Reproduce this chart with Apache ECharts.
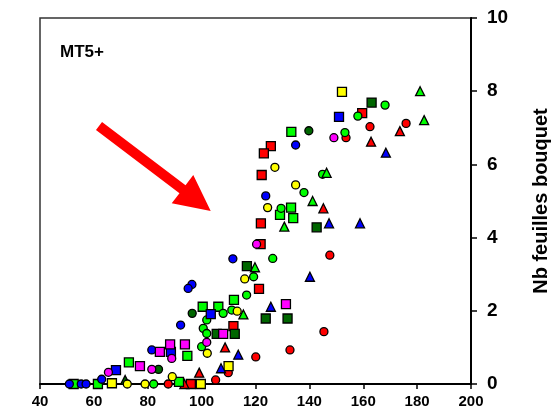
<!DOCTYPE html>
<html>
<head>
<meta charset="utf-8">
<script src="https://cdn.jsdelivr.net/npm/echarts@6/dist/echarts.min.js"></script>
<style>
  html, body { margin: 0; padding: 0; background: #ffffff; }
  #chart { width: 556px; height: 414px; }
</style>
</head>
<body>
<div id="chart"></div>
<script>
// Axis ranges
const xRange = { min: 40, max: 200, step: 20 };
const yRange = { min: 0, max: 10, step: 2 };
const panelTitle = 'MT5+';
const yAxisTitle = 'Nb feuilles bouquet';

// Observations [x, Nb feuilles bouquet], grouped by colour and marker
const redSquares = [[159.6,7.4],[125.7,6.5],[123.1,6.3],[122.3,5.71],[122.0,4.39],[121.9,3.82],[121.3,2.6],[111.8,1.58],[96.0,0]];
const redCircles = [[175.9,7.12],[162.5,7.03],[153.6,6.73],[147.6,3.52],[145.4,1.43],[132.8,0.93],[120.1,0.74],[109.9,0.31],[105.2,0.11],[87.6,0]];
const redTriangles = [[173.6,6.91],[162.9,6.62],[145.2,4.8],[108.7,1.0],[99.1,0.31],[93.6,0]];
const greenSquares = [[133.3,6.89],[133.2,4.82],[129.1,4.62],[134.0,4.53],[112.0,2.3],[100.4,2.11],[106.2,2.11],[94.7,0.77],[73.0,0.59],[91.6,0.06],[52.5,0],[61.5,0]];
const greenCircles = [[168.1,7.62],[158.0,7.32],[153.2,6.87],[144.9,5.73],[138.0,5.23],[129.5,4.8],[126.4,3.43],[119.3,2.93],[116.7,2.43],[111.2,2.02],[108.0,1.93],[101.9,1.75],[100.6,1.52],[101.9,1.38],[100.0,1.02],[82.2,0]];
const greenTriangles = [[181.1,8.0],[182.6,7.21],[146.4,5.77],[141.2,5.0],[130.7,4.3],[119.8,3.19],[115.5,1.9]];
const darkGreenSquares = [[163.1,7.69],[142.7,4.28],[116.8,3.22],[123.8,1.79],[131.9,1.79],[112.3,1.37],[105.6,1.37]];
const darkGreenCircles = [[139.8,6.92],[96.5,1.93],[84.0,0.4]];
const darkGreenTriangles = [[71.6,0.11]];
const yellowSquares = [[152.1,7.98],[110.0,0.49],[99.7,0],[66.7,0.02]];
const yellowCircles = [[127.2,5.92],[134.9,5.44],[124.5,4.82],[116.0,2.87],[113.2,1.99],[102.1,0.84],[89.1,0.2],[79.0,0],[72.4,0]];
const blueSquares = [[151.0,7.3],[103.4,1.91],[88.6,0.88],[68.2,0.38]];
const blueCircles = [[134.9,6.53],[123.8,5.14],[111.6,3.42],[96.4,2.72],[95.0,2.61],[92.2,1.61],[81.5,0.93],[62.9,0.13],[50.9,0],[55.3,0],[57.1,0]];
const blueTriangles = [[168.4,6.32],[147.3,4.39],[158.8,4.39],[140.2,2.93],[125.7,2.11],[113.6,0.8],[107.2,0.43]];
const magentaSquares = [[131.3,2.18],[108.0,1.37],[88.3,1.08],[93.8,1.08],[84.5,0.88],[77.1,0.49]];
const magentaCircles = [[149.1,6.73],[120.4,3.82],[101.9,1.14],[88.9,0.7],[81.5,0.4],[65.4,0.32]];

const palette = {
  red: '#ff0000', green: '#00ff00', darkGreen: '#006600',
  yellow: '#ffff00', blue: '#0000ff', magenta: '#ff00ff'
};
const markers = {
  square: { symbol: 'rect', size: 9 },
  circle: { symbol: 'circle', size: 8 },
  triangle: { symbol: 'triangle', size: 9 }
};

const groups = [
  ['red', 'square', redSquares], ['red', 'circle', redCircles], ['red', 'triangle', redTriangles],
  ['green', 'square', greenSquares], ['green', 'circle', greenCircles], ['green', 'triangle', greenTriangles],
  ['darkGreen', 'square', darkGreenSquares], ['darkGreen', 'circle', darkGreenCircles], ['darkGreen', 'triangle', darkGreenTriangles],
  ['yellow', 'square', yellowSquares], ['yellow', 'circle', yellowCircles],
  ['blue', 'square', blueSquares], ['blue', 'circle', blueCircles], ['blue', 'triangle', blueTriangles],
  ['magenta', 'square', magentaSquares], ['magenta', 'circle', magentaCircles]
];

const series = groups.map(([colour, shape, data]) => ({
  name: colour + '-' + shape,
  type: 'scatter',
  data: data,
  symbol: markers[shape].symbol,
  symbolSize: markers[shape].size,
  clip: false,
  itemStyle: { color: palette[colour], borderColor: '#000000', borderWidth: 1.3, opacity: 1 },
  emphasis: { disabled: true },
  animation: false
}));

// Red arrow annotation pointing into the rising part of the cloud
function arrowPoints(start, base, tip, halfShaft, halfHead) {
  const dx = tip[0] - start[0], dy = tip[1] - start[1];
  const len = Math.hypot(dx, dy);
  const nx = -dy / len, ny = dx / len;
  return [
    [start[0] + halfShaft * nx, start[1] + halfShaft * ny],
    [start[0] - halfShaft * nx, start[1] - halfShaft * ny],
    [base[0] - halfShaft * nx, base[1] - halfShaft * ny],
    [base[0] - halfHead * nx, base[1] - halfHead * ny],
    tip,
    [base[0] + halfHead * nx, base[1] + halfHead * ny],
    [base[0] + halfShaft * nx, base[1] + halfShaft * ny]
  ];
}

const font = '"Liberation Sans", Arial, sans-serif';
const chart = echarts.init(document.getElementById('chart'), null, { renderer: 'canvas' });
chart.setOption({
  backgroundColor: '#ffffff',
  animation: false,
  grid: {
    left: 40, right: 85, top: 18, bottom: 30,
    outerBoundsMode: 'none', containLabel: false,
    show: true, borderColor: '#333333', borderWidth: 1.5, backgroundColor: 'transparent'
  },
  xAxis: {
    type: 'value', min: xRange.min, max: xRange.max, interval: xRange.step,
    axisLine: { show: true, lineStyle: { color: '#000000', width: 2 } },
    axisTick: { show: true, inside: false, length: 5, lineStyle: { color: '#000000', width: 1.5 } },
    axisLabel: { color: '#000000', fontSize: 15, fontWeight: 'bold', fontFamily: font, margin: 10 },
    splitLine: { show: false }
  },
  yAxis: {
    type: 'value', position: 'right', min: yRange.min, max: yRange.max, interval: yRange.step,
    name: yAxisTitle, nameLocation: 'middle', nameRotate: 90, nameGap: 60,
    nameTextStyle: { color: '#000000', fontSize: 20, fontWeight: 'bold', fontFamily: font },
    axisLine: { show: true, lineStyle: { color: '#000000', width: 2 } },
    axisTick: { show: true, inside: false, length: 6, lineStyle: { color: '#000000', width: 1.5 } },
    axisLabel: { color: '#000000', fontSize: 19, fontWeight: 'bold', fontFamily: font, margin: 16 },
    splitLine: { show: false }
  },
  graphic: [
    {
      type: 'text', left: 60, top: 44, silent: true,
      style: { text: panelTitle, fill: '#000000', font: 'bold 17px ' + font }
    },
    {
      type: 'polygon', silent: true, z: 1,
      shape: { points: arrowPoints([99, 126], [182.5, 189.2], [210.7, 211], 5, 17.8) },
      style: { fill: '#ff0000' }
    }
  ],
  series: series
});
</script>
</body>
</html>
